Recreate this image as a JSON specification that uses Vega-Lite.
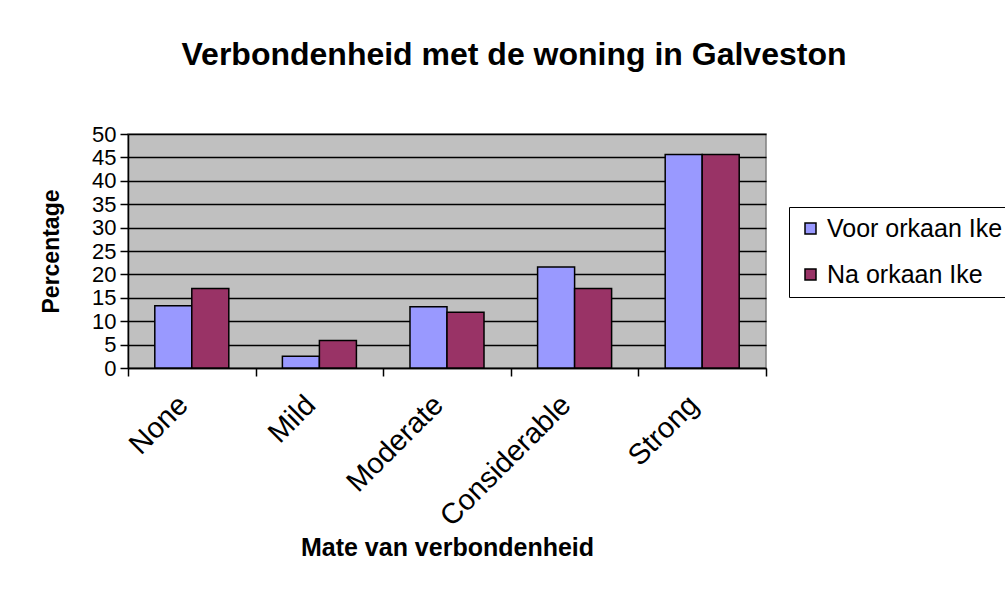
{
  "$schema": "https://vega.github.io/schema/vega-lite/v6.json",
  "width": 638,
  "height": 234,
  "autosize": {"type": "none"},
  "padding": {"left": 128, "top": 134, "right": 239, "bottom": 222},
  "background": "white",
  "title": {
    "text": "Verbondenheid met de woning in Galveston",
    "font": "Liberation Sans",
    "fontSize": 32,
    "fontWeight": "bold",
    "color": "black",
    "anchor": "middle",
    "frame": "group",
    "dx": 67,
    "offset": 51
  },
  "data": {
    "values": [
      {"category": "None", "series": "Voor orkaan Ike", "value": 13.3},
      {"category": "None", "series": "Na orkaan Ike", "value": 17},
      {"category": "Mild", "series": "Voor orkaan Ike", "value": 2.5},
      {"category": "Mild", "series": "Na orkaan Ike", "value": 5.9},
      {"category": "Moderate", "series": "Voor orkaan Ike", "value": 13.1},
      {"category": "Moderate", "series": "Na orkaan Ike", "value": 11.9},
      {"category": "Considerable", "series": "Voor orkaan Ike", "value": 21.6},
      {"category": "Considerable", "series": "Na orkaan Ike", "value": 17},
      {"category": "Strong", "series": "Voor orkaan Ike", "value": 45.6},
      {"category": "Strong", "series": "Na orkaan Ike", "value": 45.6}
    ]
  },
  "mark": {"type": "bar", "stroke": "black", "strokeWidth": 1.5},
  "encoding": {
    "x": {
      "field": "category",
      "type": "nominal",
      "sort": ["None", "Mild", "Moderate", "Considerable", "Strong"],
      "scale": {"paddingInner": 0, "paddingOuter": 0},
      "axis": {
        "title": "Mate van verbondenheid",
        "tickBand": "extent",
        "labelAngle": -45,
        "labelAlign": "right",
        "labelBaseline": "middle",
        "labelFontSize": 29,
        "labelPadding": 24,
        "labelOffset": -9,
        "tickSize": 8,
        "titleFontSize": 25,
        "titlePadding": 4
      }
    },
    "xOffset": {
      "field": "series",
      "type": "nominal",
      "sort": ["Voor orkaan Ike", "Na orkaan Ike"],
      "scale": {"paddingInner": 0, "paddingOuter": 0.724}
    },
    "y": {
      "field": "value",
      "type": "quantitative",
      "scale": {"domain": [0, 50], "nice": false},
      "axis": {
        "title": "Percentage",
        "values": [0, 5, 10, 15, 20, 25, 30, 35, 40, 45, 50],
        "grid": true,
        "gridColor": "black",
        "gridWidth": 1.5,
        "tickSize": 8,
        "labelFontSize": 22,
        "labelPadding": 4,
        "titleFontSize": 23,
        "titlePadding": 28
      }
    },
    "color": {
      "field": "series",
      "type": "nominal",
      "sort": ["Voor orkaan Ike", "Na orkaan Ike"],
      "scale": {"domain": ["Voor orkaan Ike", "Na orkaan Ike"], "range": ["#9999FF", "#993366"]},
      "legend": {
        "title": null,
        "orient": "none",
        "legendX": 661,
        "legendY": 73,
        "strokeColor": "black",
        "fillColor": "white",
        "padding": 9,
        "symbolType": "square",
        "symbolSize": 121,
        "symbolStrokeColor": "black",
        "symbolStrokeWidth": 1.5,
        "labelFontSize": 25,
        "labelOffset": 4,
        "rowPadding": 20,
        "labelLimit": 600
      }
    }
  },
  "config": {
    "font": "Liberation Sans",
    "view": {"fill": "#C0C0C0", "stroke": "#808080", "strokeWidth": 1.5},
    "axis": {
      "domainColor": "black",
      "domainWidth": 1.5,
      "tickColor": "black",
      "tickWidth": 1.5,
      "labelColor": "black",
      "titleColor": "black",
      "labelFont": "Liberation Sans",
      "titleFont": "Liberation Sans",
      "titleFontWeight": "bold"
    },
    "legend": {"labelFont": "Liberation Sans", "labelColor": "black"}
  }
}
